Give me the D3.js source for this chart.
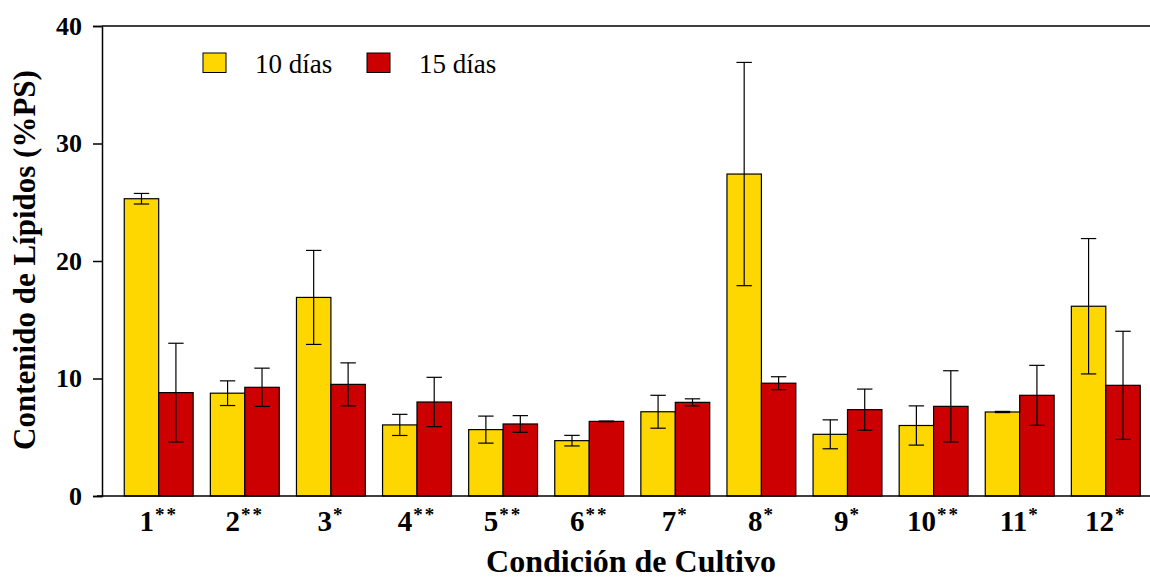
<!DOCTYPE html>
<html><head><meta charset="utf-8">
<script src="https://cdn.jsdelivr.net/npm/d3@7"></script>
<style>body{margin:0;background:#fff}svg{display:block}</style>
</head><body>
<script>
const categories = ["1","2","3","4","5","6","7","8","9","10","11","12"];
const marks = ["**","**","*","**","**","**","*","*","*","**","*","*"];
const series = ["10 días","15 días"];
const values10 = [25.3, 8.75, 16.9, 6.05, 5.65, 4.71, 7.17, 27.4, 5.25, 6.0, 7.15, 16.15];
const err10    = [0.45, 1.05, 4.0, 0.9, 1.15, 0.45, 1.4, 9.5, 1.23, 1.67, 0.05, 5.76];
const values15 = [8.8, 9.25, 9.5, 8.0, 6.13, 6.35, 7.97, 9.6, 7.35, 7.63, 8.57, 9.42];
const err15    = [4.2, 1.63, 1.83, 2.1, 0.71, 0.03, 0.3, 0.55, 1.75, 3.03, 2.55, 4.6];
const yTicks = [0, 10, 20, 30, 40];
const colors = ["#FFD700", "#CC0000"];

const W = 1150, H = 579;
const svg = d3.select("body").append("svg").attr("width", W).attr("height", H)
  .style("font-family", "'Liberation Serif', 'DejaVu Serif', serif");

const mLeft = 102, mTop = 26, mBottom = 496;
const y = d3.scaleLinear().domain([0, 40]).range([mBottom, mTop]);
const x = d3.scaleBand().domain(categories).range([115.65, 1148.85]).paddingInner(0.2).paddingOuter(0.1);
const xs = d3.scaleBand().domain(series).range([0, x.bandwidth()]);

const data = categories.map((c, i) => [
  {c, s: series[0], v: values10[i], e: err10[i]},
  {c, s: series[1], v: values15[i], e: err15[i]}
]).flat();

// bars
svg.append("g").selectAll("rect").data(data).join("rect")
  .attr("x", d => x(d.c) + xs(d.s))
  .attr("y", d => y(d.v))
  .attr("width", xs.bandwidth())
  .attr("height", d => y(0) - y(d.v))
  .attr("fill", d => colors[series.indexOf(d.s)])
  .attr("stroke", "#000").attr("stroke-width", 1.2);

// error bars
const eg = svg.append("g").attr("stroke", "#000").attr("stroke-width", 1.2);
data.forEach(d => {
  const cx = x(d.c) + xs(d.s) + xs.bandwidth() / 2;
  const y1 = y(d.v + d.e), y2 = y(d.v - d.e);
  eg.append("line").attr("x1", cx).attr("x2", cx).attr("y1", y1).attr("y2", y2);
  eg.append("line").attr("x1", cx - 7.7).attr("x2", cx + 7.7).attr("y1", y1).attr("y2", y1);
  eg.append("line").attr("x1", cx - 7.7).attr("x2", cx + 7.7).attr("y1", y2).attr("y2", y2);
});

// y axis
const yAxis = d3.axisLeft(y).tickValues(yTicks).tickSize(9).tickPadding(11).tickFormat(d3.format("d"));
const ga = svg.append("g").attr("transform", `translate(${mLeft},0)`).call(yAxis);
ga.select(".domain").attr("stroke", "#000").attr("stroke-width", 1.5);
ga.selectAll(".tick line").attr("stroke-width", 1.5);
ga.selectAll(".tick text").style("font-size", "26px").style("font-weight", "bold")
  .style("font-family", "'Liberation Serif', serif").attr("fill", "#000");

// frame lines (top and bottom)
svg.append("line").attr("x1", mLeft).attr("x2", W).attr("y1", y(40)).attr("y2", y(40))
  .attr("stroke", "#000").attr("stroke-width", 1.5);
svg.append("line").attr("x1", mLeft - 5).attr("x2", W).attr("y1", y(0)).attr("y2", y(0))
  .attr("stroke", "#000").attr("stroke-width", 1.5);

// x labels
const xl = svg.append("g").selectAll("text").data(categories).join("text")
  .attr("x", d => x(d) + x.bandwidth() / 2)
  .attr("y", 531)
  .attr("text-anchor", "middle")
  .style("font-size", "29px").style("font-weight", "bold");
xl.append("tspan").text(d => d);
xl.append("tspan").attr("dy", -10).attr("dx", 1).style("font-size", "19px").style("letter-spacing", "2px").text((d, i) => marks[i]);

// axis titles
svg.append("text").attr("x", 631).attr("y", 572).attr("text-anchor", "middle")
  .style("font-size", "32px").style("font-weight", "bold").text("Condición de Cultivo");
svg.append("text").attr("transform", `translate(35,260) rotate(-90)`)
  .attr("text-anchor", "middle")
  .style("font-size", "31px").style("font-weight", "bold").text("Contenido de Lípidos (%PS)");

// legend
const legX = [203, 367];
const lg = svg.append("g");
series.forEach((s, i) => {
  lg.append("rect").attr("x", legX[i]).attr("y", 53).attr("width", 23).attr("height", 19.5)
    .attr("fill", colors[i]).attr("stroke", "#000").attr("stroke-width", 1);
  lg.append("text").attr("x", legX[i] + 52).attr("y", 72.5).style("font-size", "27px").text(s);
});
</script>
</body></html>
